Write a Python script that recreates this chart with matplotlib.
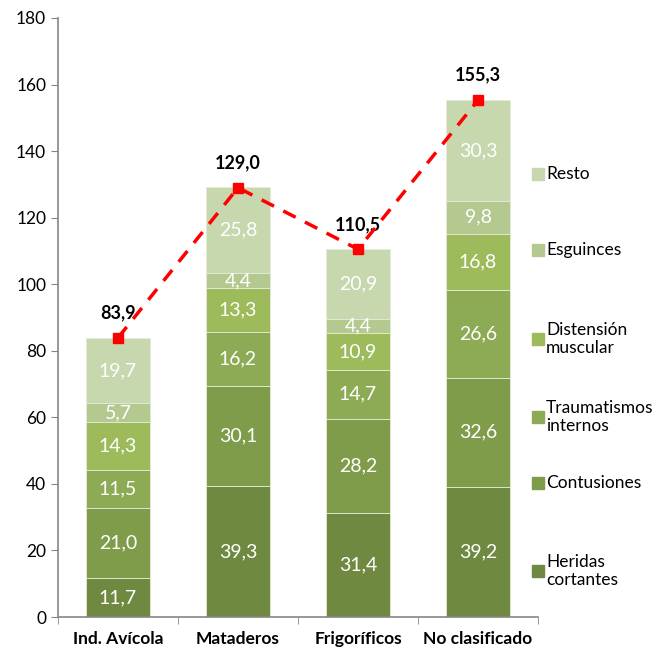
import numpy as np
import matplotlib.pyplot as plt
from matplotlib.patches import Rectangle

plt.rcParams['font.family'] = ['Lato', 'DejaVu Sans']

categorias = ['Ind. Avícola', 'Mataderos', 'Frigoríficos', 'No clasificado']
series = ['Heridas\ncortantes', 'Contusiones', 'Traumatismos\ninternos',
          'Distensión\nmuscular', 'Esguinces', 'Resto']
heridas = [11.7, 39.3, 31.4, 39.2]
contusiones = [21.0, 30.1, 28.2, 32.6]
traumatismos = [11.5, 16.2, 14.7, 26.6]
distension = [14.3, 13.3, 10.9, 16.8]
esguinces = [5.7, 4.4, 4.4, 9.8]
resto = [19.7, 25.8, 20.9, 30.3]
totales = [83.9, 129.0, 110.5, 155.3]

colores = ['#6F8A40', '#7F9C4A', '#8DAB55', '#9DBB5A', '#B3C98F', '#C8D8AE']

valores = [heridas, contusiones, traumatismos, distension, esguinces, resto]

fig = plt.figure(figsize=(6.55, 6.47), dpi=100)
ax = fig.add_axes([58/655, 1-617/647, 480/655, 599/647])

x = np.arange(len(categorias))
base = np.zeros(len(categorias))
for vals, col, nombre in zip(valores, colores, series):
    vals = np.array(vals)
    ax.bar(x, vals, 0.53, bottom=base, color=col, edgecolor='#E4EBD8', linewidth=0.6, label=nombre)
    for xi, b, v in zip(x, base, vals):
        ax.text(xi, b + v/2, f'{v:.1f}'.replace('.', ','), ha='center', va='center',
                color='white', fontsize=14)
    base += vals

ax.plot(x, totales, color='#FF0000', linestyle=(0, (4, 3)), linewidth=2.5,
        marker='s', markersize=7, zorder=5)
for xi, t in zip(x, totales):
    ax.annotate(f'{t:.1f}'.replace('.', ','), (xi, t), xytext=(0, 18), textcoords='offset points',
                ha='center', va='center', fontsize=13, fontweight='bold')

ax.set_xlim(-0.5, 3.5)
ax.set_ylim(0, 180)
ax.set_yticks(np.arange(0, 181, 20))
ax.set_xticks(x)
ax.set_xticklabels(categorias, fontweight='bold', fontsize=12.5)
ax.set_xticks(np.arange(-0.5, 3.6, 1), minor=True)
ax.tick_params(axis='x', which='major', length=0, pad=10)
ax.tick_params(axis='x', which='minor', length=5, color='#868686')
ax.tick_params(axis='y', labelsize=12.5, length=5, color='#868686')
for s in ['top', 'right']:
    ax.spines[s].set_visible(False)
for s in ['left', 'bottom']:
    ax.spines[s].set_color('#868686')
    ax.spines[s].set_linewidth(1.2)

# legend, top to bottom
ley_y = [174, 250, 339, 417, 483, 571]
for nombre, col, yp in zip(series[::-1], colores[::-1], ley_y):
    fy = 1 - yp/647
    fig.patches.append(Rectangle((532/655, fy - 6/647), 12/655, 12/647,
                                 transform=fig.transFigure, color=col))
    fig.text(546/655, fy, nombre, ha='left', va='center', fontsize=12.5, linespacing=1.2)

fig.savefig('out.png', dpi=100)
